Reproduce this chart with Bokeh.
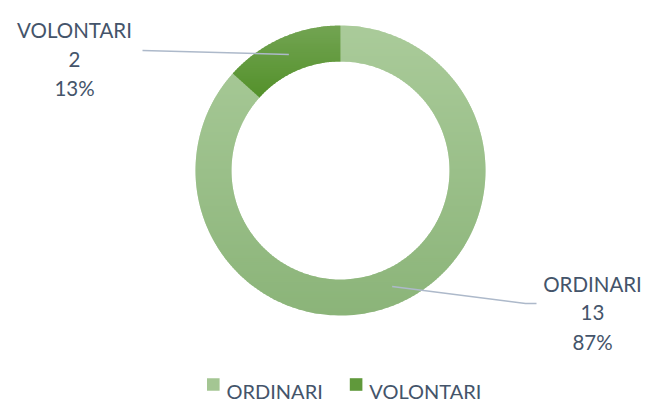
import math
from bokeh.plotting import figure
from bokeh.models import Range1d
from bokeh.core.properties import value
from bokeh.embed import file_html
from bokeh.resources import INLINE

# ---- data ----
categories = ["ORDINARI", "VOLONTARI"]
values = [13, 2]
percent_labels = ["87%", "13%"]
top_colors = ["#AACB9A", "#73A453"]
bottom_colors = ["#8BB479", "#54912B"]

W, H = 646, 402
FONT = "Lato"
TXT = "#44546A"
LEADER = "#ADB9CA"
FS = "20.5px"


def P(px, py):
    """page pixel -> data coordinates"""
    return px, H - py


p = figure(width=W, height=H, output_backend="svg", toolbar_location=None,
           x_range=Range1d(0, W), y_range=Range1d(0, H), min_border=0)
p.axis.visible = False
p.grid.visible = False
p.outline_line_color = None
p.background_fill_color = "white"
p.border_fill_color = "white"

cx, cy = P(340, 170)
r_out, r_in = 145, 109


def sector_poly(a0, a1, n=200):
    xs, ys = [], []
    for i in range(n + 1):
        a = a0 + (a1 - a0) * i / n
        xs.append(cx + r_out * math.cos(a)); ys.append(cy + r_out * math.sin(a))
    for i in range(n + 1):
        a = a1 - (a1 - a0) * i / n
        xs.append(cx + r_in * math.cos(a)); ys.append(cy + r_in * math.sin(a))
    return list(zip(xs, ys))


def clip(poly, y0, keep_above):
    out = []
    if not poly:
        return out
    def inside(pt):
        return pt[1] >= y0 if keep_above else pt[1] <= y0
    prev = poly[-1]
    for cur in poly:
        ci, pi = inside(cur), inside(prev)
        if ci != pi:
            t = (y0 - prev[1]) / (cur[1] - prev[1])
            out.append((prev[0] + t * (cur[0] - prev[0]), y0))
        if ci:
            out.append(cur)
        prev = cur
    return out


def mix(c1, c2, t):
    a = [int(c1[i:i + 2], 16) for i in (1, 3, 5)]
    b = [int(c2[i:i + 2], 16) for i in (1, 3, 5)]
    return "#%02x%02x%02x" % tuple(round(a[k] + (b[k] - a[k]) * t) for k in range(3))


total = sum(values)
cum = 0
bxs, bys, bcol = [], [], []
mids = []
for i, v in enumerate(values):
    th_start = math.radians(90 - cum * 360 / total)
    th_end = math.radians(90 - (cum + v) * 360 / total)
    cum += v
    mids.append((th_start + th_end) / 2)
    poly = sector_poly(th_end, th_start)
    ymin = min(q[1] for q in poly); ymax = max(q[1] for q in poly)
    step = 2.0
    y = ymax
    first = True
    while y > ymin:
        lo = max(y - step, ymin)
        top = y if first else y + 1.0
        first = False
        band = clip(clip(poly, lo, True), top, False)
        if len(band) >= 3:
            t = (ymax - (y + lo) / 2) / (ymax - ymin)
            col = mix(top_colors[i], bottom_colors[i], t)
            bxs.append([q[0] for q in band]); bys.append([q[1] for q in band]); bcol.append(col)
        y = lo

p.patches(bxs, bys, fill_color=bcol, line_color=None)

# ---- data labels with leader lines ----
rm = (r_in + r_out) / 2
label_pos = {"ORDINARI": (592, 283), "VOLONTARI": (74, 29.3)}
leader_end = {"ORDINARI": [(525, 303), (536, 303)], "VOLONTARI": [(142, 50)]}
for i, cat in enumerate(categories):
    sx = cx + rm * math.cos(mids[i]); sy = cy + rm * math.sin(mids[i])
    pts = [P(*q) for q in leader_end[cat]]
    lx = [sx] + [q[0] for q in pts]; ly = [sy] + [q[1] for q in pts]
    p.line(lx, ly, line_color=LEADER, line_width=1.5)
    bx, by = P(*label_pos[cat])
    lines = [cat, str(values[i]), percent_labels[i]]
    for k, s in enumerate(lines):
        p.text(x=[bx], y=[by - 29.2 * k], text=[s], text_font=value(FONT),
               text_font_size=FS, text_color=TXT, text_align="center",
               text_baseline="alphabetic")

# ---- legend ----
leg_sq = [206.5, 349.3]
leg_fill = [mix(top_colors[0], bottom_colors[0], 0.2), mix(top_colors[1], bottom_colors[1], 0.6)]
for i, cat in enumerate(categories):
    sx0 = leg_sq[i]
    x0, y0 = P(sx0 + 6.3, 384)
    p.rect(x=[x0], y=[y0], width=12.6, height=12.6, fill_color=leg_fill[i], line_color=None)
    tx, ty = P(sx0 + 19.5, 390)
    p.text(x=[tx], y=[ty], text=[cat], text_font=value(FONT), text_font_size="20px",
           text_color=TXT, text_align="left", text_baseline="alphabetic")

open("out.html", "w").write(file_html(p, INLINE))
